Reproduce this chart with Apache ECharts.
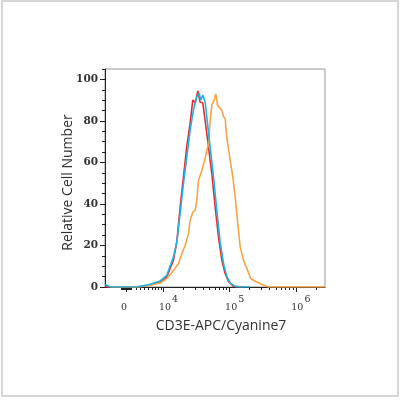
<!DOCTYPE html>
<html>
<head>
<meta charset="utf-8">
<script src="https://cdn.jsdelivr.net/npm/echarts@6/dist/echarts.min.js"></script>
<style>
html,body{margin:0;padding:0;background:#fff;}
#chart{position:absolute;left:0;top:0;width:400px;height:400px;}
#frame{position:absolute;left:1px;top:0px;width:398px;height:397px;border:2px solid #d6d6d6;box-sizing:border-box;pointer-events:none;}
</style>
</head>
<body>
<div id="chart"></div>
<div id="frame"></div>
<script>
// Display units on x: decades of a biexponential scale (0 sits at 3.435, 10^4 at 4, ...)
const xTickPos = [3.435, 4, 5, 6];
const xTickBase = ['0', '10', '10', '10'];
const xTickSup = ['', '4', '5', '6'];
const xMinorLinear = [3.36, 3.375, 3.39, 3.405, 3.42, 3.45, 3.465, 3.48, 3.495,
  3.51, 3.583, 3.653, 3.716, 3.775, 3.828, 3.877, 3.921, 3.962];
const yMajor = [0, 20, 40, 60, 80, 100];
const yMinor = [5, 10, 15, 25, 30, 35, 45, 50, 55, 65, 70, 75, 85, 90, 95, 105];

const redData = [
  [3.12, 0], [3.647, 0], [3.798, 1], [3.95, 2.4], [4.05, 4.8], [4.151, 12.9], [4.202, 21.7],
  [4.252, 38.6], [4.302, 53], [4.353, 68], [4.403, 78.8], [4.443, 90], [4.479, 88.7],
  [4.519, 94.5], [4.554, 89], [4.594, 88.7], [4.63, 80], [4.68, 67.5], [4.73, 54.7],
  [4.781, 38.6], [4.831, 24], [4.882, 12.9], [4.932, 6.4], [4.982, 2.7], [5.058, 0.3], [5.2, 0]
];
const cyanData = [
  [3.12, 1.2], [3.144, 0.8], [3.2, 0], [3.597, 0], [3.647, 0.3], [3.798, 1.3], [3.95, 2.9],
  [4.05, 5.6], [4.151, 14.5], [4.202, 21.7], [4.252, 35.4], [4.302, 49.8], [4.353, 62.7],
  [4.403, 75.6], [4.453, 85.2], [4.504, 91.6], [4.539, 93.2], [4.564, 90], [4.594, 92.4],
  [4.63, 89], [4.665, 78.8], [4.705, 67.5], [4.756, 53], [4.806, 37], [4.856, 21.7],
  [4.907, 11.3], [4.957, 5.1], [5.008, 1.9], [5.083, 0.3], [5.159, 0], [5.3, 0]
];
const orangeData = [
  [3.2, 0], [3.597, 0], [3.798, 0.8], [3.95, 1.9], [4.05, 4], [4.151, 8], [4.227, 11.3],
  [4.277, 16], [4.327, 20], [4.378, 25.7], [4.403, 32], [4.443, 36], [4.479, 37],
  [4.504, 41.8], [4.529, 51.4], [4.579, 56], [4.63, 62], [4.68, 69], [4.705, 80],
  [4.73, 87.6], [4.766, 90], [4.791, 93], [4.816, 87.6], [4.846, 87.6], [4.882, 85],
  [4.907, 82], [4.932, 81], [4.957, 72], [5.008, 61], [5.048, 53], [5.083, 43.4],
  [5.118, 32], [5.159, 19.3], [5.209, 12.9], [5.27, 8], [5.32, 4], [5.411, 2.4],
  [5.511, 0.8], [5.587, 0], [6.44, 0]
];

const xMinorLog = [];
[4, 5, 6].forEach(function (d) {
  for (let k = 2; k <= 9; k++) {
    const v = d + Math.log10(k);
    if (v < 6.44) xMinorLog.push(v);
  }
});
const xMinor = xMinorLinear.concat(xMinorLog);

const chart = echarts.init(document.getElementById('chart'), null, {renderer: 'canvas'});
const serif = 'DejaVu Serif';
const X_MIN = 3.117, X_MAX = 6.44;

function xLabel(v) {
  for (let i = 0; i < xTickPos.length; i++) {
    if (Math.abs(v - xTickPos[i]) < 1e-6) {
      if (xTickSup[i] === '') return '{z|' + xTickBase[i] + '}{s| }';
      return '{b|' + xTickBase[i] + '}{s|' + xTickSup[i] + '}';
    }
  }
  return '';
}

chart.setOption({
  animation: false,
  backgroundColor: '#ffffff',
  grid: {left: 105, right: 75, top: 69, bottom: 113, show: true, borderColor: '#969696', borderWidth: 1, containLabel: false},
  xAxis: [{
    type: 'value', min: X_MIN, max: X_MAX, position: 'bottom',
    axisLine: {show: true, onZero: false, lineStyle: {color: '#222', width: 1}},
    axisTick: {show: true, customValues: xTickPos, length: 5, lineStyle: {color: '#222', width: 1}},
    splitLine: {show: false},
    axisLabel: {
      show: true, customValues: xTickPos, margin: 8, formatter: xLabel,
      rich: {
        z: {fontFamily: serif, fontSize: 9.5, color: '#333', verticalAlign: 'bottom'},
        b: {fontFamily: serif, fontSize: 9.5, color: '#333', verticalAlign: 'bottom', padding: [0, 0, 0, 10]},
        s: {fontFamily: serif, fontSize: 9.5, color: '#333', verticalAlign: 'bottom', padding: [0, 0, 8, 1]}
      }
    }
  }, {
    type: 'value', min: X_MIN, max: X_MAX, position: 'bottom',
    axisLine: {show: false, onZero: false},
    axisTick: {show: true, customValues: xMinor, length: 3, lineStyle: {color: '#222', width: 1}},
    splitLine: {show: false},
    axisLabel: {show: false}
  }],
  yAxis: [{
    type: 'value', min: 0, max: 105, position: 'left',
    axisLine: {show: true, onZero: false, lineStyle: {color: '#222', width: 1}},
    axisTick: {show: true, customValues: yMajor, length: 5, lineStyle: {color: '#222', width: 1}},
    splitLine: {show: false},
    axisLabel: {show: true, customValues: yMajor, margin: 7, fontFamily: serif, fontWeight: 'bold', fontSize: 10.5, color: '#333'}
  }, {
    type: 'value', min: 0, max: 105, position: 'left',
    axisLine: {show: false, onZero: false},
    axisTick: {show: true, customValues: yMinor, length: 3, lineStyle: {color: '#222', width: 1}},
    splitLine: {show: false},
    axisLabel: {show: false}
  }],
  graphic: [{
    type: 'text', x: 68.5, y: 182.5, rotation: Math.PI / 2,
    style: {text: 'Relative Cell Number', fontFamily: 'Open Sans', fontSize: 14, fill: '#333', align: 'center', verticalAlign: 'middle'}
  }, {
    type: 'text', x: 221, y: 326,
    style: {text: 'CD3E-APC/Cyanine7', fontFamily: 'Open Sans', fontSize: 14, fill: '#333', align: 'center', verticalAlign: 'middle'}
  }],
  series: [{
    type: 'line', name: 'red', data: redData, xAxisIndex: 0, yAxisIndex: 0,
    showSymbol: false, symbol: 'none', smooth: false,
    lineStyle: {color: '#ea2a2e', width: 1.6}
  }, {
    type: 'line', name: 'orange', data: orangeData, xAxisIndex: 0, yAxisIndex: 0,
    showSymbol: false, symbol: 'none', smooth: false,
    lineStyle: {color: '#f7a444', width: 1.6}
  }, {
    type: 'line', name: 'cyan', data: cyanData, xAxisIndex: 0, yAxisIndex: 0,
    showSymbol: false, symbol: 'none', smooth: false,
    lineStyle: {color: '#1db4e6', width: 1.6}
  }]
});
</script>
</body>
</html>
